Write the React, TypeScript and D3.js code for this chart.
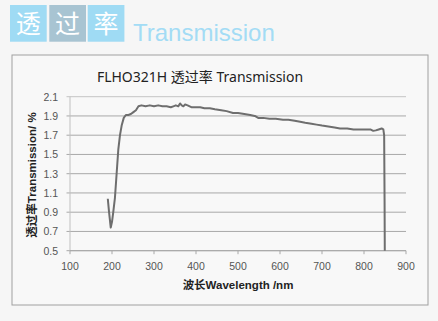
import React from "react";
import * as d3 from "d3";

const wavelengths = [190, 193, 197, 200, 203, 207, 211, 215, 219, 223, 228, 233, 239, 245, 251, 257, 263, 270, 280, 290, 300, 310, 320, 330, 340, 346, 352, 358, 362, 366, 370, 374, 380, 390, 400, 410, 420, 433, 445, 460, 473, 488, 500, 515, 529, 540, 548, 560, 575, 590, 607, 620, 635, 648, 660, 675, 687, 700, 715, 730, 743, 760, 775, 790, 806, 815, 822, 828, 835, 842, 846, 848, 849, 849.5];
const transmission = [1.04, 0.9, 0.74, 0.8, 0.9, 1.05, 1.3, 1.55, 1.7, 1.8, 1.88, 1.91, 1.91, 1.92, 1.94, 1.96, 2.0, 2.01, 2.0, 2.01, 2.0, 2.01, 2.0, 2.0, 1.99, 2.0, 2.01, 2.0, 2.03, 2.01, 2.0, 2.02, 2.01, 1.99, 1.99, 1.99, 1.98, 1.98, 1.97, 1.96, 1.95, 1.93, 1.93, 1.92, 1.91, 1.9, 1.88, 1.88, 1.87, 1.87, 1.86, 1.86, 1.85, 1.84, 1.83, 1.82, 1.81, 1.8, 1.79, 1.78, 1.77, 1.77, 1.76, 1.76, 1.76, 1.76, 1.745, 1.75, 1.76, 1.77, 1.76, 1.7, 1.0, 0.5];
const xTicks = [100, 200, 300, 400, 500, 600, 700, 800, 900];
const yTicks = [0.5, 0.7, 0.9, 1.1, 1.3, 1.5, 1.7, 1.9, 2.1];
const headerChars = ["透", "过", "率"];

export default function App() {
  const x = d3.scaleLinear().domain([100, 900]).range([70, 406]);
  const y = d3.scaleLinear().domain([0.5, 2.1]).range([250.7, 96.7]);
  const pts: [number, number][] = wavelengths.map((w, i) => [w, transmission[i]]);
  const line = d3
    .line<[number, number]>()
    .x((d) => x(d[0]))
    .y((d) => y(d[1]));
  const boxX = [10, 49.3, 87.7];
  const boxColors = ["#9fdbf4", "#a8c4d2", "#9fdbf4"];
  return (
    <svg
      width={438}
      height={321}
      style={{ position: "fixed", left: 0, top: 0, background: "#f6f6f6" }}
      fontFamily="'Liberation Sans', Arial, sans-serif"
    >
      <rect x={0} y={0} width={438} height={321} fill="#f6f6f6" />
      {headerChars.map((c, i) => (
        <g key={c}>
          <rect x={boxX[i]} y={5} width={36.7} height={36.7} fill={boxColors[i]} />
          <text
            x={boxX[i] + 18.3}
            y={33}
            textAnchor="middle"
            fontSize={25}
            fill="#ffffff"
            fontFamily="'Noto Sans CJK SC', sans-serif"
          >
            {c}
          </text>
        </g>
      ))}
      <text x={133} y={40.5} fontSize={24} fill="#a3dcf5">
        Transmission
      </text>
      <rect x={12} y={55} width={416} height={250} fill="#f8f8f8" stroke="#a0a0a0" strokeWidth={1} />
      <text
        x={200}
        y={81.5}
        textAnchor="middle"
        fontSize={14}
        fill="#222"
        fontFamily="'Noto Sans', 'Noto Sans CJK SC', sans-serif"
      >
        FLHO321H 透过率 Transmission
      </text>
      {yTicks.map((t) => (
        <g key={t}>
          <line x1={66.5} x2={406} y1={y(t)} y2={y(t)} stroke={t === 2.1 ? "#c4c4c4" : "#a8a8a8"} strokeWidth={1} />
          <text x={58} y={y(t) + 3.8} textAnchor="end" fontSize={10.5} fill="#555">
            {t.toFixed(1)}
          </text>
        </g>
      ))}
      <line x1={70} x2={70} y1={y(2.1)} y2={y(0.5)} stroke="#c0c0c0" />
      <line x1={70} x2={406} y1={y(0.5)} y2={y(0.5)} stroke="#a8a8a8" />
      {xTicks.map((t) => (
        <g key={t}>
          <line x1={x(t)} x2={x(t)} y1={y(0.5)} y2={y(0.5) + 3.5} stroke="#a8a8a8" />
          <text x={x(t)} y={270} textAnchor="middle" fontSize={10.5} fill="#555">
            {t}
          </text>
        </g>
      ))}
      <path d={line(pts) ?? ""} fill="none" stroke="#6e6e6e" strokeWidth={2} strokeLinejoin="round" />
      <text
        x={238}
        y={289}
        textAnchor="middle"
        fontSize={11.5}
        fontWeight="bold"
        fill="#222"
        fontFamily="'Liberation Sans', 'Noto Sans CJK SC', sans-serif"
      >
        波长Wavelength /nm
      </text>
      <text
        transform={`translate(36, 175) rotate(-90)`}
        textAnchor="middle"
        fontSize={11.5}
        fontWeight="bold"
        fill="#222"
        fontFamily="'Liberation Sans', 'Noto Sans CJK SC', sans-serif"
      >
        透过率Transmission/ %
      </text>
    </svg>
  );
}
